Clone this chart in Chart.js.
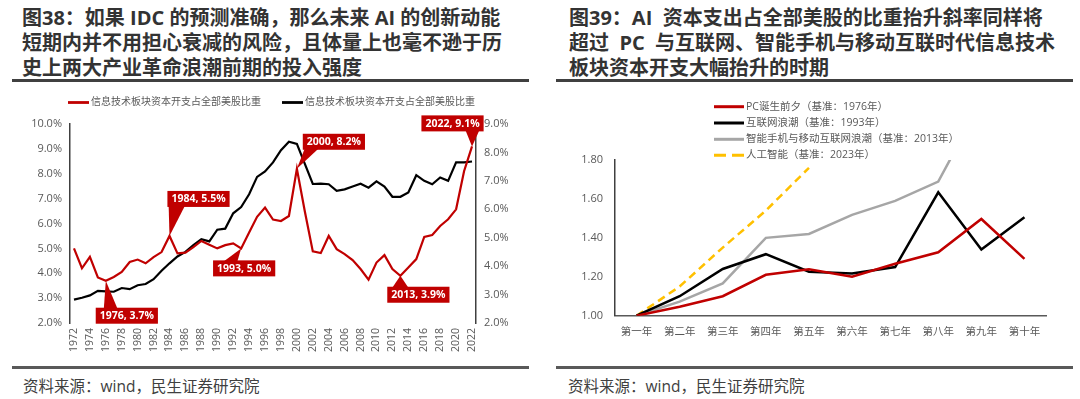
<!DOCTYPE html>
<html>
<head>
<meta charset="utf-8">
<script src="https://cdn.jsdelivr.net/npm/chart.js@4.4.1/dist/chart.umd.min.js"></script>
<style>
  body { margin: 0; width: 1080px; height: 399px; background: #fff; position: relative; overflow: hidden;
         font-family: "Open Sans", "Noto Sans CJK SC", sans-serif; }
  .title { position: absolute; top: 5px; font-size: 20px; line-height: 25px; font-weight: bold; color: #333; white-space: pre; }
  .rule { position: absolute; height: 2.5px; background: #404040; }
  .source { position: absolute; top: 374px; font-size: 15.5px; color: #404040; white-space: pre; }
  .box { position: absolute; top: 88px; height: 272px; }
</style>
</head>
<body>

<div class="title" style="left:22px">图38：如果 IDC 的预测准确，那么未来 AI 的创新动能
短期内并不用担心衰减的风险，且体量上也毫不逊于历
史上两大产业革命浪潮前期的投入强度</div>
<div class="title" style="left:569px">图39：AI  资本支出占全部美股的比重抬升斜率同样将
超过  PC  与互联网、智能手机与移动互联时代信息技术
板块资本开支大幅抬升的时期</div>
<div class="rule" style="left:12px; width:517px; top:79px"></div>
<div class="rule" style="left:556px; width:517px; top:79px"></div>

<div class="box" style="left:0; width:540px"><canvas id="capexChart" width="540" height="272"></canvas></div>
<div class="box" style="left:556px; width:520px"><canvas id="eraChart" width="520" height="272"></canvas></div>

<div class="rule" style="left:12px; width:517px; top:366px; background:#595959"></div>
<div class="rule" style="left:556px; width:517px; top:366px; background:#595959"></div>
<div class="source" style="left:23px">资料来源：wind，民生证券研究院</div>
<div class="source" style="left:568px">资料来源：wind，民生证券研究院</div>

<script>
// 图38：年份与两条序列（红线左轴，黑线右轴）
const years = ['1972','1973','1974','1975','1976','1977','1978','1979','1980','1981',
               '1982','1983','1984','1985','1986','1987','1988','1989','1990','1991',
               '1992','1993','1994','1995','1996','1997','1998','1999','2000','2001',
               '2002','2003','2004','2005','2006','2007','2008','2009','2010','2011',
               '2012','2013','2014','2015','2016','2017','2018','2019','2020','2021','2022'];

const redShare = [5.0, 4.2, 4.66, 3.83, 3.7, 3.85, 4.05, 4.45, 4.55, 4.4,
                  4.65, 4.85, 5.5, 4.8, 4.83, 5.05, 5.3, 5.15, 5.0, 5.13,
                  5.2, 5.0, 5.64, 6.27, 6.64, 6.16, 6.1, 6.3, 8.2, 6.48,
                  4.88, 4.81, 5.5, 4.97, 4.77, 4.53, 4.17, 3.74, 4.43, 4.73,
                  4.17, 3.9, 4.23, 4.57, 5.46, 5.54, 5.9, 6.17, 6.57, 8.1, 9.1];

const blackShare = [2.82, 2.89, 2.97, 3.13, 3.11, 3.10, 3.23, 3.19, 3.33, 3.37,
                    3.54, 3.84, 4.10, 4.34, 4.50, 4.74, 4.95, 4.87, 5.28, 5.32,
                    5.86, 6.08, 6.53, 7.14, 7.33, 7.65, 8.08, 8.38, 8.30, 7.6,
                    6.89, 6.9, 6.88, 6.65, 6.7, 6.8, 6.9, 6.76, 6.98, 6.8,
                    6.44, 6.44, 6.59, 7.2, 7.0, 6.88, 7.12, 7.0, 7.65, 7.65, 7.68];

const shareLabel = '信息技术板块资本开支占全部美股比重';

// 标注的年份
const calloutYears = ['1976', '1984', '1993', '2000', '2013', '2022'];

// 图39：以基准年为 1 的十年走势
const stageLabels = ['第一年','第二年','第三年','第四年','第五年','第六年','第七年','第八年','第九年','第十年'];
const pcEra = [1.00, 1.046, 1.10, 1.21, 1.238, 1.20, 1.267, 1.326, 1.497, 1.292];
const internetEra = [1.00, 1.10, 1.24, 1.316, 1.226, 1.217, 1.25, 1.634, 1.34, 1.506];
const mobileEra = [1.00, 1.072, 1.166, 1.40, 1.42, 1.518, 1.59, 1.689, 2.10, 2.25];
const aiEra = [1.00, 1.15, 1.35, 1.54, 1.76];
const eraNames = ['PC诞生前夕（基准：1976年）', '互联网浪潮（基准：1993年）',
                  '智能手机与移动互联网浪潮（基准：2013年）', '人工智能（基准：2023年）'];

const FONT = '"Open Sans", "Noto Sans CJK SC", sans-serif';
const TICK = '#595959';

// 图例：一条短线 + 文字
const lineLegend = {
    id: 'lineLegend',
    afterDraw(chart, args, opts) {
        const ctx = chart.ctx;
        ctx.save();
        ctx.font = `${opts.size}px ${FONT}`;
        ctx.textBaseline = 'middle';
        chart.data.datasets.forEach((ds, i) => {
            const it = opts.items[i];
            ctx.strokeStyle = ds.borderColor;
            ctx.lineWidth = opts.lineWidth;
            ctx.setLineDash(ds.borderDash ? opts.dash : []);
            ctx.beginPath();
            ctx.moveTo(it.x, it.y);
            ctx.lineTo(it.x + opts.lineLength, it.y);
            ctx.stroke();
            ctx.setLineDash([]);
            ctx.fillStyle = TICK;
            ctx.fillText(ds.label, it.x + opts.lineLength + 2, it.y);
        });
        ctx.restore();
    }
};

// 红色标注框
const callouts = {
    id: 'callouts',
    afterDraw(chart, args, opts) {
        const ctx = chart.ctx;
        const meta = chart.getDatasetMeta(0);
        ctx.save();
        ctx.font = `bold 10.5px ${FONT}`;
        opts.items.forEach(c => {
            const idx = chart.data.labels.indexOf(c.year);
            const pt = meta.data[idx];
            const text = `${c.year}, ${chart.data.datasets[0].data[idx].toFixed(1)}%`;
            const w = ctx.measureText(text).width + 8, h = 16;
            const left = pt.x + c.dx - w / 2, top = pt.y + c.dy - h / 2;
            const edgeY = c.dy > 0 ? top + 1 : top + h - 1;
            ctx.fillStyle = '#C00000';
            ctx.beginPath();
            ctx.moveTo(pt.x, pt.y);
            ctx.lineTo(left + w * c.base[0], edgeY);
            ctx.lineTo(left + w * c.base[1], edgeY);
            ctx.closePath();
            ctx.fill();
            ctx.fillRect(left, top, w, h);
            ctx.fillStyle = '#fff';
            ctx.textAlign = 'center';
            ctx.textBaseline = 'middle';
            ctx.fillText(text, left + w / 2, top + h / 2 + 0.5);
        });
        ctx.restore();
    }
};

const calloutPlace = {
    '1976': { dx: 21, dy: 35, base: [0.13, 0.35] },
    '1984': { dx: 29, dy: -37, base: [0.02, 0.28] },
    '1993': { dx: 3, dy: 20, base: [0.17, 0.39] },
    '2000': { dx: 37, dy: -27, base: [0.03, 0.25] },
    '2013': { dx: 18, dy: 19, base: [0.08, 0.34] },
    '2022': { dx: -19.5, dy: -23, base: [0.71, 0.93] }
};

function loadCapexChart() {
    const ctx = document.getElementById('capexChart').getContext('2d');
    new Chart(ctx, {
        type: 'line',
        data: {
            labels: years,
            datasets: [
                { label: shareLabel, data: redShare, yAxisID: 'y', borderColor: '#C00000', borderWidth: 2.2 },
                { label: shareLabel, data: blackShare, yAxisID: 'y1', borderColor: '#000000', borderWidth: 2.2 }
            ]
        },
        options: {
            responsive: false,
            animation: false,
            devicePixelRatio: 1,
            layout: { padding: { top: 36, left: 0, right: 0, bottom: 0 } },
            elements: { point: { radius: 0 }, line: { tension: 0 } },
            plugins: {
                legend: { display: false },
                tooltip: { enabled: false },
                lineLegend: {
                    size: 10, lineWidth: 2.8, lineLength: 21,
                    items: [{ x: 68, y: 14.5 }, { x: 282, y: 14.5 }]
                },
                callouts: { items: calloutYears.map(y => ({ year: y, ...calloutPlace[y] })) }
            },
            scales: {
                x: {
                    offset: true,
                    grid: { display: false, drawTicks: false },
                    border: { display: false },
                    ticks: {
                        autoSkip: false, minRotation: 90, maxRotation: 90, padding: 5,
                        color: TICK, font: { family: FONT, size: 10.5 },
                        callback(v, i) { return i % 2 === 0 ? this.getLabelForValue(v) : ''; }
                    },
                    afterFit(s) { s.height = 37; }
                },
                y: {
                    position: 'left', min: 2, max: 10,
                    grid: { display: false, drawTicks: false },
                    border: { color: '#404040', width: 1.5 },
                    ticks: { stepSize: 1, padding: 8, color: TICK, font: { family: FONT, size: 11 },
                             callback: v => v.toFixed(1) + '%' },
                    afterFit(s) { s.width = 70; }
                },
                y1: {
                    position: 'right', min: 2, max: 9,
                    grid: { display: false, drawTicks: false },
                    border: { color: '#404040', width: 1.5 },
                    ticks: { stepSize: 1, padding: 8, color: TICK, font: { family: FONT, size: 11 },
                             callback: v => v.toFixed(1) + '%' },
                    afterFit(s) { s.width = 64; }
                }
            }
        },
        plugins: [lineLegend, callouts]
    });
}

function loadEraChart() {
    const ctx = document.getElementById('eraChart').getContext('2d');
    new Chart(ctx, {
        type: 'line',
        data: {
            labels: stageLabels,
            datasets: [
                { label: eraNames[0], data: pcEra, borderColor: '#C00000', borderWidth: 2.5 },
                { label: eraNames[1], data: internetEra, borderColor: '#000000', borderWidth: 2.5 },
                { label: eraNames[2], data: mobileEra, borderColor: '#A6A6A6', borderWidth: 2.5 },
                { label: eraNames[3], data: aiEra, borderColor: '#FFC000', borderWidth: 2.5, borderDash: [8, 5] }
            ]
        },
        options: {
            responsive: false,
            animation: false,
            devicePixelRatio: 1,
            layout: { padding: { top: 72, left: 0, right: 30, bottom: 0 } },
            elements: { point: { radius: 0 }, line: { tension: 0 } },
            plugins: {
                legend: { display: false },
                tooltip: { enabled: false },
                lineLegend: {
                    size: 10.5, lineWidth: 3, lineLength: 30, dash: [12, 6],
                    items: [{ x: 158, y: 18.7 }, { x: 158, y: 35 }, { x: 158, y: 51.3 }, { x: 158, y: 67.3 }]
                }
            },
            scales: {
                x: {
                    offset: true,
                    grid: { display: false, drawTicks: false },
                    border: { color: '#595959', width: 1.5 },
                    ticks: { autoSkip: false, maxRotation: 0, padding: 10, color: TICK,
                             font: { family: FONT, size: 10.5 } },
                    afterFit(s) { s.height = 44.3; }
                },
                y: {
                    min: 1, max: 1.8,
                    grid: { display: false, drawTicks: false },
                    border: { color: '#404040', width: 1.5 },
                    ticks: { stepSize: 0.2, padding: 12, color: TICK, font: { family: FONT, size: 11 },
                             callback: v => v.toFixed(2) },
                    afterFit(s) { s.width = 59; }
                }
            }
        },
        plugins: [lineLegend]
    });
}

document.addEventListener("DOMContentLoaded", () => {
    loadCapexChart();
    loadEraChart();
});
</script>
</body>
</html>
